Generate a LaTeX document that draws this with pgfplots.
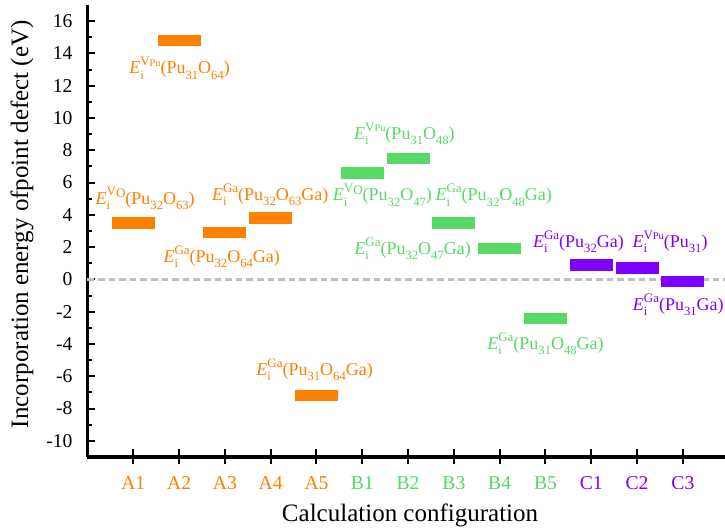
\documentclass[border=0pt]{standalone}
\usepackage{pgfplots}
\pgfplotsset{compat=1.18}
\usepackage{fontspec}
\setmainfont{Liberation Serif}
\definecolor{cA}{RGB}{255,128,0}
\definecolor{cB}{RGB}{87,217,102}
\definecolor{cC}{RGB}{128,0,255}
\newcommand\sub[1]{\raisebox{-0.3em}{\fontsize{6.3}{7}\selectfont #1}}
\newcommand\sups[1]{\raisebox{0.45em}{\fontsize{6.5}{7}\selectfont #1}}
\newcommand\Ei[1]{\textit{E}\rlap{\sub{i}}\sups{#1}}
\newcommand\VO{V\raisebox{-0.15em}{O}}
\newcommand\VPu{V\raisebox{-0.05em}{\fontsize{5.2}{6}\selectfont Pu}}
\begin{document}
\begin{tikzpicture}
\begin{axis}[
  at={(0,0)}, anchor=south west,
  scale only axis, width=318.75pt, height=226pt,
  xmin=0, xmax=13.92, ymin=-11, ymax=17,
  axis x line=bottom, axis y line=left,
  axis line style={-, line width=1.8pt, black},
  ytick={-10,-8,...,16}, minor y tick num=1,
  xtick={1,...,13},
  xticklabels={\textcolor{cA}{A1},\textcolor{cA}{A2},\textcolor{cA}{A3},\textcolor{cA}{A4},\textcolor{cA}{A5},
    \textcolor{cB}{B1},\textcolor{cB}{B2},\textcolor{cB}{B3},\textcolor{cB}{B4},\textcolor{cB}{B5},
    \textcolor{cC}{C1},\textcolor{cC}{C2},\textcolor{cC}{C3}},
  tick style={black, line width=1pt},
  major tick length=4pt, minor tick length=2.5pt,
  ytick align=inside, xtick align=center,
  xtick style={/pgfplots/major tick length=7.5pt},
  tick label style={font=\fontsize{9.8}{11}\selectfont},
  /pgf/number format/assume math mode=true,
  yticklabel style={xshift=-4pt},
  xticklabel style={anchor=base, yshift=-14.2pt},
  xlabel={Calculation configuration},
  ylabel={Incorporation energy ofpoint defect (eV)},
  label style={font=\fontsize{12.5}{14}\selectfont},
  xlabel style={at={(axis description cs:0.506,0)}, anchor=base, yshift=-32.2pt},
  ylabel style={at={(axis description cs:-0.1027,0.515)}, anchor=center},
  clip=false,
]
\addplot[gray!50, line width=1.5pt, dash pattern=on 3.3pt off 2pt] coordinates {(0,0) (13.92,0)};
\addplot[draw=none, mark=none, error bars/.cd, x dir=both, x fixed=0.47, error mark=none,
  error bar style={line width=5.65pt, draw=cA, solid}] coordinates {(1,3.5) (2,14.8) (3,2.9) (4,3.8) (5,-7.2)};
\addplot[draw=none, mark=none, error bars/.cd, x dir=both, x fixed=0.47, error mark=none,
  error bar style={line width=5.65pt, draw=cB, solid}] coordinates {(6,6.6) (7,7.5) (8,3.5) (9,1.9) (10,-2.4)};
\addplot[draw=none, mark=none, error bars/.cd, x dir=both, x fixed=0.47, error mark=none,
  error bar style={line width=5.65pt, draw=cC, solid}] coordinates {(11,0.9) (12,0.7) (13,-0.15)};
\begin{scope}[every node/.style={anchor=base, inner sep=0pt, font=\fontsize{9}{10}\selectfont}]
\node[cA] at (axis cs:2.01,12.73) {\Ei{\VPu}(Pu\sub{31}O\sub{64})};
\node[cA] at (axis cs:1.26,4.67) {\Ei{\VO}(Pu\sub{32}O\sub{63})};
\node[cA] at (axis cs:3.99,4.9) {\Ei{Ga}(Pu\sub{32}O\sub{63}Ga)};
\node[cA] at (axis cs:2.93,1.07) {\Ei{Ga}(Pu\sub{32}O\sub{64}Ga)};
\node[cA] at (axis cs:4.96,-5.93) {\Ei{Ga}(Pu\sub{31}O\sub{64}Ga)};
\node[cB] at (axis cs:6.92,8.68) {\Ei{\VPu}(Pu\sub{31}O\sub{48})};
\node[cB] at (axis cs:6.44,4.88) {\Ei{\VO}(Pu\sub{32}O\sub{47})};
\node[cB] at (axis cs:8.87,4.88) {\Ei{Ga}(Pu\sub{32}O\sub{48}Ga)};
\node[cB] at (axis cs:7.1,1.54) {\Ei{Ga}(Pu\sub{32}O\sub{47}Ga)};
\node[cB] at (axis cs:10.0,-4.34) {\Ei{Ga}(Pu\sub{31}O\sub{48}Ga)};
\node[cC] at (axis cs:10.72,2.0) {\Ei{Ga}(Pu\sub{32}Ga)};
\node[cC] at (axis cs:12.72,2.0) {\Ei{\VPu}(Pu\sub{31})};
\node[cC] at (axis cs:12.9,-1.91) {\Ei{Ga}(Pu\sub{31}Ga)};
\end{scope}
\end{axis}
\pgfresetboundingbox
\path[use as bounding box] (-43.75pt,-36.35pt) rectangle (318.75pt,228.5pt);
\end{tikzpicture}
\end{document}
